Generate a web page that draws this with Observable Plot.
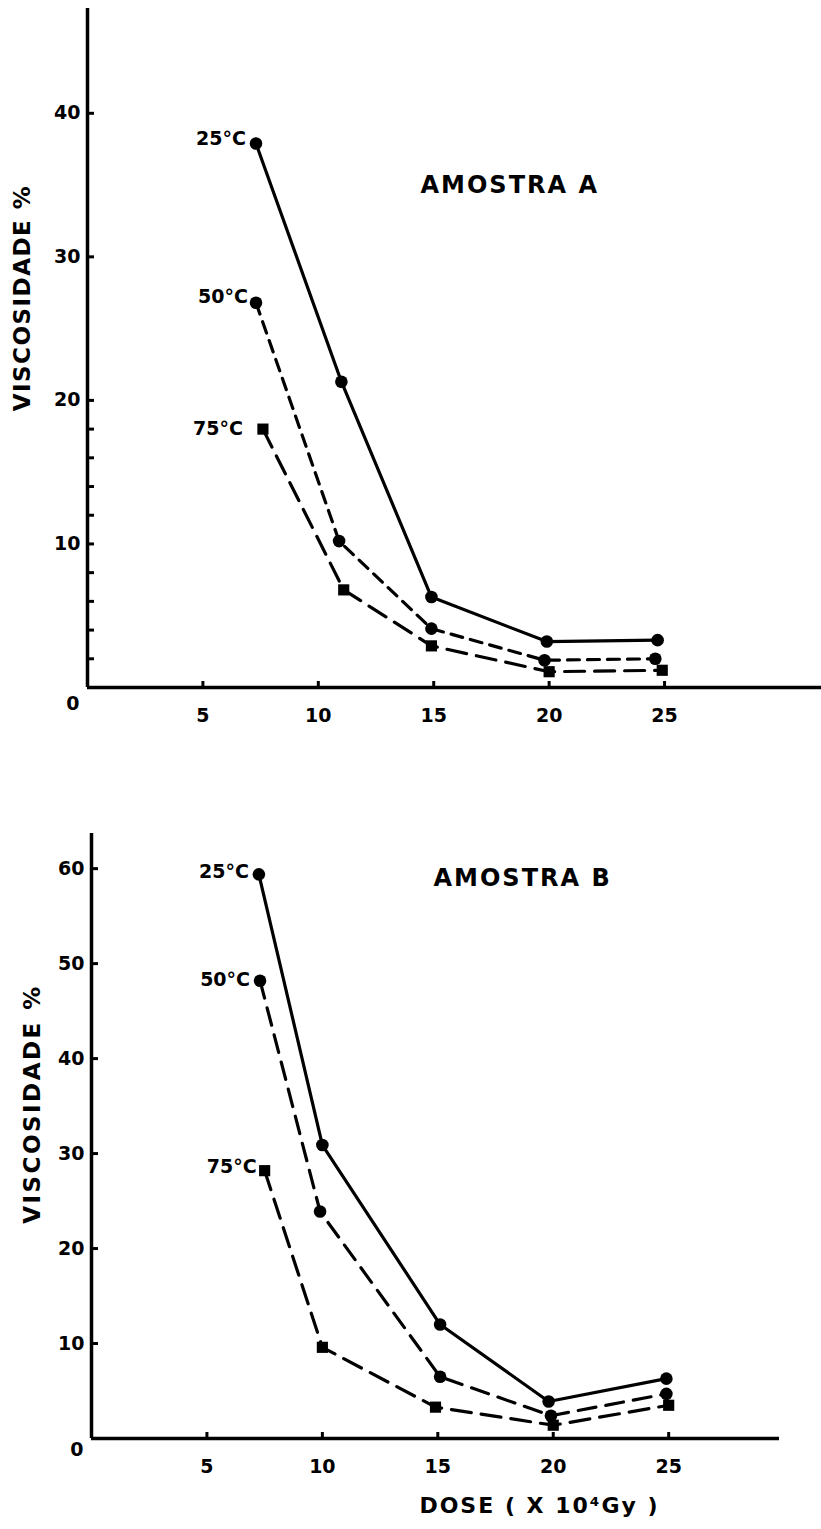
<!DOCTYPE html>
<html>
<head>
<meta charset="utf-8">
<script src="https://cdn.jsdelivr.net/npm/d3@7"></script>
<script src="https://cdn.jsdelivr.net/npm/@observablehq/plot@0.6"></script>
<style>
  html, body { margin: 0; padding: 0; background: #fff; }
  #chart { width: 821px; }
  svg { display: block; }
</style>
</head>
<body>
<div id="chart"></div>
<script>
// ---- data ----
const doseTicks = [5, 10, 15, 20, 25];
const tempLabels = ["25°C", "50°C", "75°C"];

// Amostra A
const doseA25 = [7.3, 11.0, 14.9, 19.9, 24.7];
const visA25  = [37.9, 21.3, 6.3, 3.2, 3.3];
const doseA50 = [7.3, 10.9, 14.9, 19.8, 24.6];
const visA50  = [26.8, 10.2, 4.1, 1.9, 2.0];
const doseA75 = [7.6, 11.1, 14.9, 20.0, 24.9];
const visA75  = [18.0, 6.8, 2.9, 1.1, 1.2];
const yLabelsA = [10, 20, 30, 40];
const yTickMarksA = [2, 4, 6, 8, 10, 12, 14, 16, 18, 20, 30, 40];

// Amostra B
const doseB25 = [7.25, 10.0, 15.1, 19.8, 24.9];
const visB25  = [59.4, 30.9, 12.0, 3.9, 6.3];
const doseB50 = [7.3, 9.9, 15.1, 19.9, 24.9];
const visB50  = [48.2, 23.9, 6.5, 2.4, 4.7];
const doseB75 = [7.5, 10.0, 14.9, 20.0, 25.0];
const visB75  = [28.2, 9.6, 3.3, 1.4, 3.5];
const yLabelsB = [10, 20, 30, 40, 50, 60];

const rows = (dose, vis, temp) => dose.map((d, i) => ({dose: d, vis: vis[i], temp}));

const FONT = "'DejaVu Sans', 'Liberation Sans', sans-serif";

function panel(cfg) {
  const {series, yLabels, yTickMarks, xMax, yMax, title, height, margins, ylabelOffset, titleOffset, originDy, xlabel, dashes, symbols, labelDx, labelDy} = cfg;
  const marks = [
    Plot.ruleY([0], {stroke: "#000", strokeWidth: 3.5}),
    Plot.ruleX([0], {stroke: "#000", strokeWidth: 3.5}),
    // inward-pointing tick marks (shifted so they sit on the inner side of the axis)
    Plot.axisY(yTickMarks, {tickSize: 6, dx: 7, strokeWidth: 3, tickFormat: () => "", label: null}),
    Plot.axisY(yLabels, {tickSize: 0, tickPadding: 7, fontSize: 19, fontWeight: "bold", label: null}),
    Plot.axisY([0], {tickSize: 0, tickPadding: 8, dy: originDy, fontSize: 19, fontWeight: "bold", label: null}),
    Plot.axisX(doseTicks, {tickSize: 5, dy: -6, strokeWidth: 3, tickFormat: () => "", label: null}),
    Plot.axisX(doseTicks, {tickSize: 0, tickPadding: 21, fontSize: 19, fontWeight: "bold", label: null})
  ];
  series.forEach((s, i) => {
    marks.push(Plot.line(s, {x: "dose", y: "vis", stroke: "#000", strokeWidth: 3.2, strokeDasharray: dashes[i]}));
    marks.push(Plot.dot(s, {x: "dose", y: "vis", r: 6.3, fill: "#000", stroke: "none", symbol: symbols[i]}));
    marks.push(Plot.text([s[0]], {x: "dose", y: "vis", text: "temp", textAnchor: "end", dx: labelDx[i], dy: labelDy[i], fontSize: 19, fontWeight: "bold"}));
  });
  marks.push(Plot.text([title], {frameAnchor: "top-left", textAnchor: "start", lineAnchor: "middle", dx: titleOffset[0], dy: titleOffset[1], fontSize: 24, fontWeight: "bold"}));
  marks.push(Plot.text(["VISCOSIDADE %"], {frameAnchor: "left", rotate: -90, textAnchor: "middle", lineAnchor: "middle", dx: ylabelOffset[0], dy: ylabelOffset[1], fontSize: 23, fontWeight: "bold"}));
  if (xlabel) {
    marks.push(Plot.text([xlabel.text], {frameAnchor: "bottom", textAnchor: "middle", lineAnchor: "middle", dx: xlabel.dx, dy: xlabel.dy, fontSize: 22, fontWeight: "bold"}));
  }
  const svg = Plot.plot({
    width: 821,
    height,
    marginLeft: margins[0], marginRight: margins[1], marginTop: margins[2], marginBottom: margins[3],
    style: {fontFamily: FONT, color: "#000", background: "#fff", overflow: "visible"},
    x: {domain: [0, xMax]},
    y: {domain: [0, yMax]},
    marks
  });
  d3.select(svg).selectAll("text").each(function() {
    const t = this.textContent;
    if (t === title) d3.select(this).style("letter-spacing", "2px");
    if (t === "VISCOSIDADE %") d3.select(this).style("letter-spacing", cfg.ylabelSpacing);
    if (xlabel && t === xlabel.text) d3.select(this).style("letter-spacing", "2px");
  });
  return svg;
}

const seriesA = [rows(doseA25, visA25, tempLabels[0]), rows(doseA50, visA50, tempLabels[1]), rows(doseA75, visA75, tempLabels[2])];
const seriesB = [rows(doseB25, visB25, tempLabels[0]), rows(doseB50, visB50, tempLabels[1]), rows(doseB75, visB75, tempLabels[2])];

const panelA = panel({
  series: seriesA, yLabels: yLabelsA, yTickMarks: yTickMarksA,
  xMax: 31.8, yMax: 47.3, title: "AMOSTRA A", height: 760,
  margins: [87, 0, 8, 73],
  ylabelOffset: [-65, -50], ylabelSpacing: "1.5px",
  titleOffset: [333, 177], originDy: 16,
  dashes: [null, "12,8", "20,10"],
  symbols: ["circle", "circle", "square"],
  labelDx: [-10, -8, -20], labelDy: [-5, -6, 0]
});
const panelB = panel({
  series: seriesB, yLabels: yLabelsB, yTickMarks: yLabelsB,
  xMax: 29.8, yMax: 63.7, title: "AMOSTRA B", height: 769,
  margins: [91, 42, 73, 91],
  ylabelOffset: [-59, -32], ylabelSpacing: "2.5px",
  titleOffset: [342, 45], originDy: 11,
  dashes: [null, "18,10", "20,10"],
  symbols: ["circle", "circle", "square"],
  labelDx: [-10, -10, -8], labelDy: [-2, -1, -4],
  xlabel: {text: "DOSE ( X 10⁴Gy )", dx: 104, dy: 67}
});
document.getElementById("chart").append(panelA, panelB);
</script>
</body>
</html>
